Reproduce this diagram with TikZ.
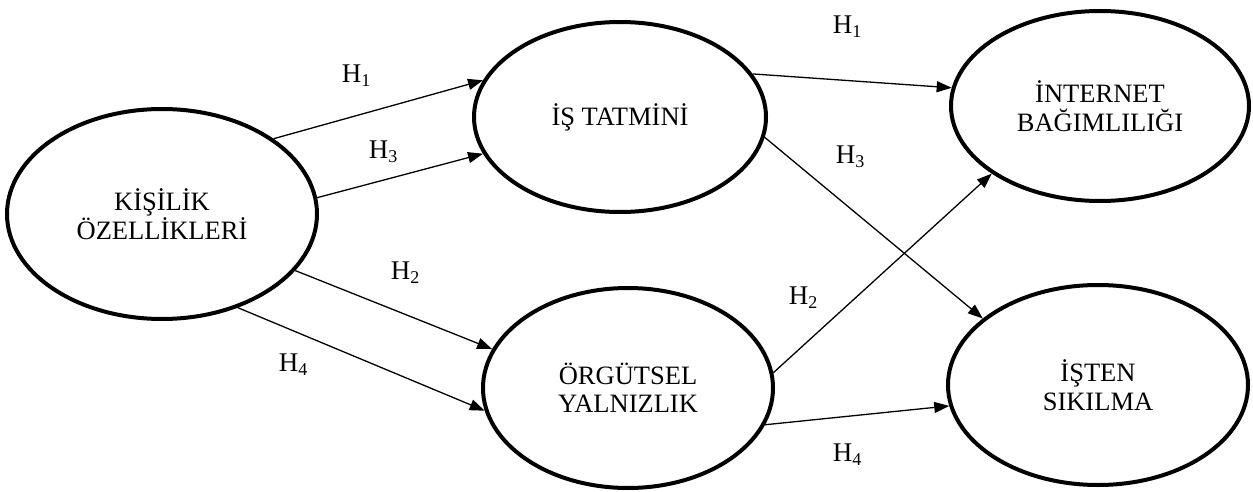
\documentclass[tikz,border=0pt]{standalone}
\usepackage{fontspec}
\setmainfont{Liberation Serif}
\usetikzlibrary{shapes.geometric,arrows.meta}
\newcommand{\hlab}[1]{H\lower0.32ex\hbox{\fontsize{18}{18}\selectfont #1}}
\tikzset{
  oval/.style={ellipse, draw, line width=4pt, inner sep=0pt, align=center,
    font=\fontsize{26.5}{28.5}\selectfont},
  conn/.style={line width=1.3pt, -{Triangle[length=15pt,width=11pt]}},
  hl/.style={inner sep=0pt, font=\fontsize{27}{27}\selectfont}
}
\begin{document}
\begin{tikzpicture}[x=1pt,y=-1pt]
\useasboundingbox (0,0) rectangle (1253,492);
\node[oval, minimum width=310pt, minimum height=210pt] (A) at (162,214) {KİŞİLİK\\ÖZELLİKLERİ};
\node[oval, minimum width=292pt, minimum height=190pt] (B) at (620,117) {İŞ TATMİNİ};
\node[oval, minimum width=298pt, minimum height=190pt] (C) at (1100,106) {İNTERNET\\BAĞIMLILIĞI};
\node[oval, minimum width=290pt, minimum height=200pt] (D) at (628,388) {ÖRGÜTSEL\\YALNIZLIK};
\node[oval, minimum width=300pt, minimum height=200pt] (E) at (1098,385) {İŞTEN\\SIKILMA};

\draw[conn] (A.34) -- (B.165);
\draw[conn] (A.6) -- (B.195);
\draw[conn] (A.-23) -- (D.164);
\draw[conn] (A.-51) -- (D.189);
\draw[conn] (B.18) -- (C.173);
\draw[conn] (B.-8) -- (E.150);
\draw[conn] (D.6) -- (C.212);
\draw[conn] (D.-15) -- (E.188);

\node[hl] (l1) at (356,76) {\hlab{1}};
\node[hl] (l3) at (383,152) {\hlab{3}};
\node[hl] (l2) at (405,273) {\hlab{2}};
\node[hl] (l4) at (293,365) {\hlab{4}};
\node[hl] (r1) at (847,27) {\hlab{1}};
\node[hl] (r3) at (850,157) {\hlab{3}};
\node[hl] (r2) at (803,298) {\hlab{2}};
\node[hl] (r4) at (847,455) {\hlab{4}};
\end{tikzpicture}
\end{document}
